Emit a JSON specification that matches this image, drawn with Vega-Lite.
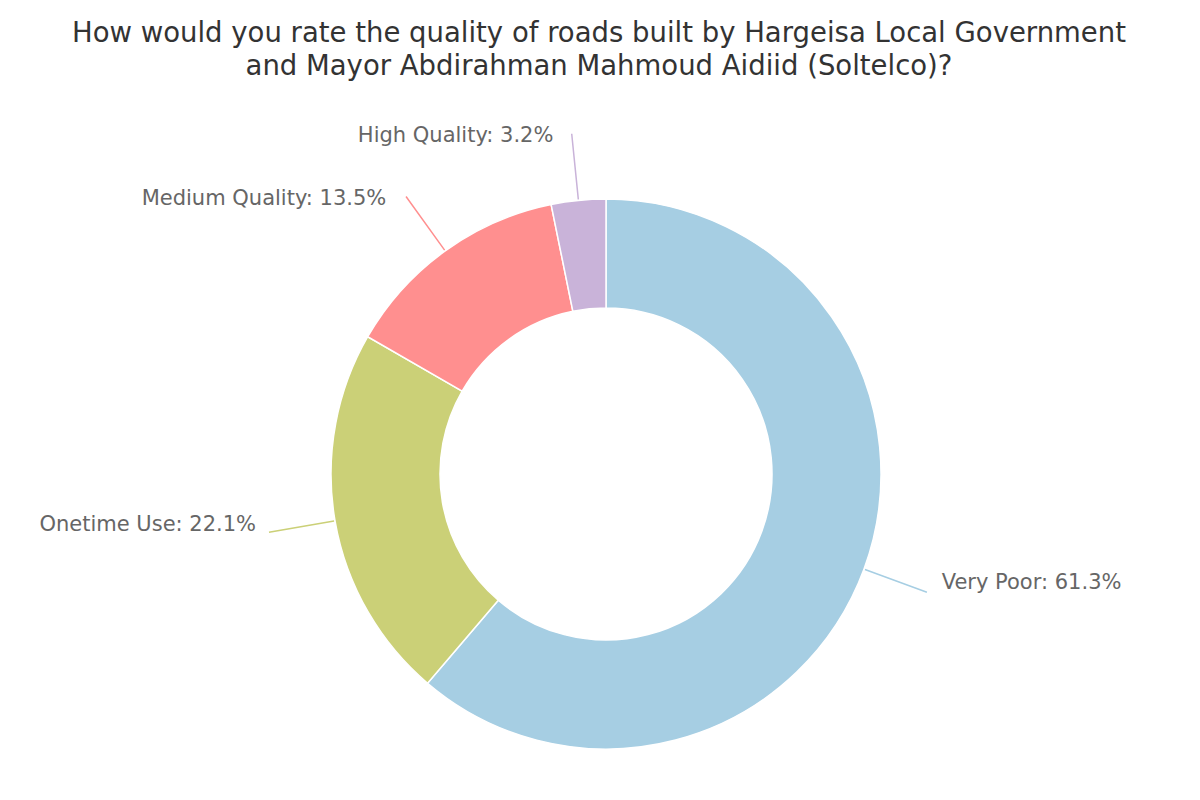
{
  "$schema": "https://vega.github.io/schema/vega-lite/v6.json",
  "width": 1188,
  "height": 652,
  "autosize": "none",
  "padding": {"left": 12, "top": 148, "right": 0, "bottom": 0},
  "background": "white",
  "config": {"view": {"stroke": null}},
  "title": {
    "text": ["How would you rate the quality of roads built by Hargeisa Local Government", "and Mayor Abdirahman Mahmoud Aidiid (Soltelco)?"],
    "font": "DejaVu Sans",
    "fontSize": 27.5,
    "fontWeight": "normal",
    "color": "#333333",
    "anchor": "middle",
    "frame": "group",
    "lineHeight": 33,
    "offset": 44,
    "dx": -7
  },
  "data": {
    "values": [
      {"rating": "Very Poor", "pct": 61.3, "rank": 1},
      {"rating": "Onetime Use", "pct": 22.1, "rank": 2},
      {"rating": "Medium Quality", "pct": 13.5, "rank": 3},
      {"rating": "High Quality", "pct": 3.2, "rank": 4}
    ]
  },
  "transform": [
    {"stack": "pct", "groupby": [], "sort": [{"field": "rank", "order": "ascending"}], "offset": "normalize", "as": ["s0", "s1"]},
    {"calculate": "(datum.s0 + datum.s1) / 2", "as": "mid"},
    {"calculate": "datum.rating + ': ' + format(datum.pct, '.1f') + '%'", "as": "label"}
  ],
  "layer": [
    {
      "mark": {"type": "arc", "radius": 275, "radius2": 166, "stroke": "white", "strokeWidth": 1.5},
      "encoding": {
        "theta": {"field": "s0", "type": "quantitative", "stack": null, "scale": {"domain": [0, 1], "range": [0, 6.283185307179586]}},
        "theta2": {"field": "s1"},
        "fill": {"field": "rating", "type": "nominal", "legend": null,
          "scale": {"domain": ["Very Poor", "Onetime Use", "Medium Quality", "High Quality"], "range": ["#a6cee3", "#cbd077", "#ff8f8f", "#c9b3d9"]}}
      }
    },
    {
      "mark": {"type": "arc", "radius": 342, "radius2": 276, "fillOpacity": 0, "strokeWidth": 1.5},
      "encoding": {
        "theta": {"field": "mid", "type": "quantitative", "stack": null},
        "theta2": {"field": "mid"},
        "stroke": {"field": "rating", "type": "nominal", "legend": null,
          "scale": {"domain": ["Very Poor", "Onetime Use", "Medium Quality", "High Quality"], "range": ["#a6cee3", "#cbd077", "#ff8f8f", "#c9b3d9"]}}
      }
    },
    {
      "transform": [{"filter": "datum.mid < 0.5"}],
      "mark": {"type": "text", "radius": 345, "align": "left", "baseline": "middle", "dx": 12, "dy": -10, "font": "DejaVu Sans", "fontSize": 21, "color": "#666666"},
      "encoding": {
        "theta": {"field": "mid", "type": "quantitative", "stack": null},
        "text": {"field": "label"}
      }
    },
    {
      "transform": [{"filter": "datum.mid >= 0.5 && datum.mid < 0.75"}],
      "mark": {"type": "text", "radius": 345, "align": "right", "baseline": "middle", "dx": -10, "dy": -8, "font": "DejaVu Sans", "fontSize": 21, "color": "#666666"},
      "encoding": {
        "theta": {"field": "mid", "type": "quantitative", "stack": null},
        "text": {"field": "label"}
      }
    },
    {
      "transform": [{"filter": "datum.mid >= 0.75"}],
      "mark": {"type": "text", "radius": 345, "align": "right", "baseline": "middle", "dx": -18, "dy": 5, "font": "DejaVu Sans", "fontSize": 21, "color": "#666666"},
      "encoding": {
        "theta": {"field": "mid", "type": "quantitative", "stack": null},
        "text": {"field": "label"}
      }
    }
  ]
}
